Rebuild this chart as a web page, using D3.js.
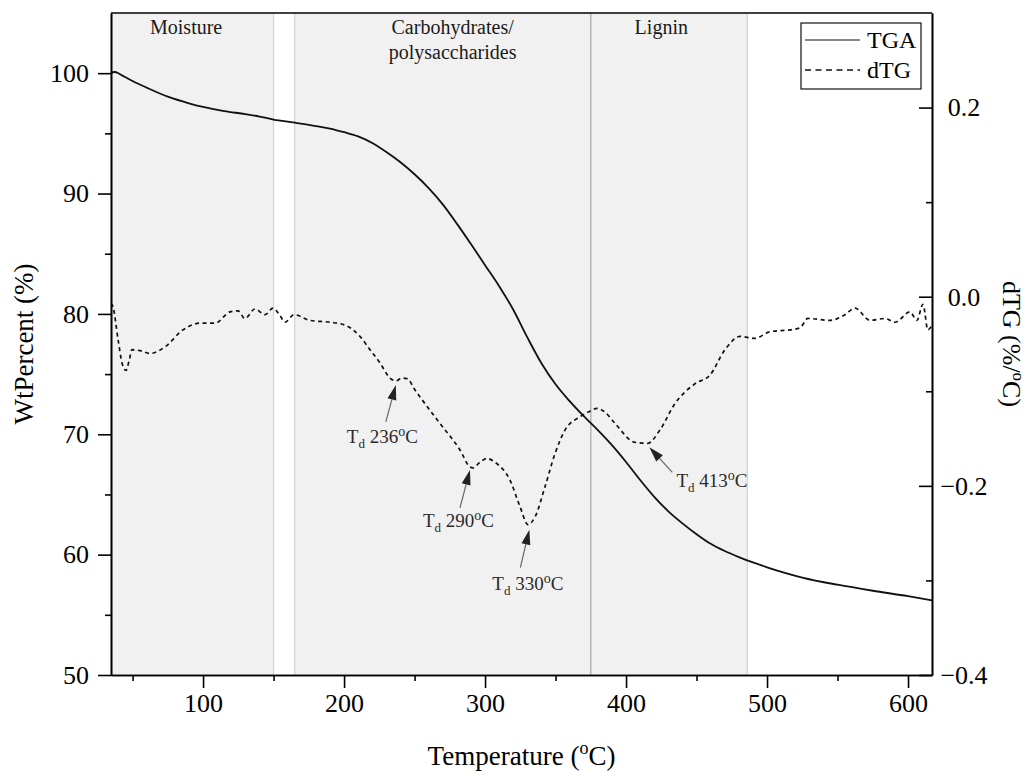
<!DOCTYPE html>
<html>
<head>
<meta charset="utf-8">
<script src="https://cdn.jsdelivr.net/npm/d3@7"></script>
<style>
body { margin: 0; background: #fff; }
svg { display: block; font-family: "Liberation Serif", "Times New Roman", serif; }
</style>
</head>
<body>
<div id="vis"></div>
<script>
const width = 1032
const height = 776
const margin = {top: 13, right: 100, bottom: 101, left: 111}

// TGA curve: temperature (C) and weight percent
const tgaTemp = [34.7, 37, 40, 42, 46, 50, 60, 75, 90, 100, 115, 130, 140, 150, 165, 180, 190, 200, 210, 220, 230, 240, 250, 260, 270, 280, 290, 300, 310, 320, 330, 340, 350, 360, 370, 380, 390, 400, 410, 420, 430, 440, 450, 460, 470, 480, 490, 500, 525, 550, 575, 600, 617]
const tgaWt = [100.0, 100.1, 100.0, 99.85, 99.6, 99.35, 98.8, 98.05, 97.5, 97.2, 96.85, 96.6, 96.4, 96.15, 95.9, 95.6, 95.4, 95.1, 94.75, 94.2, 93.45, 92.6, 91.6, 90.45, 89.1, 87.5, 85.8, 84.05, 82.3, 80.35, 78.05, 75.9, 74.15, 72.75, 71.5, 70.35, 69.1, 67.7, 66.2, 64.8, 63.6, 62.6, 61.7, 60.9, 60.3, 59.8, 59.35, 58.95, 58.1, 57.5, 57.0, 56.55, 56.2]

// derivative curve dTG (%/C)
const dtgTemp = [34.7, 36, 39.7, 42.5, 45.3, 47.5, 49.6, 55.3, 62.4, 73, 85.8, 97.8, 108.5, 119.1, 124.8, 129.7, 136.8, 143.9, 149.6, 154.6, 158.1, 164.5, 175.8, 190, 200.7, 211.3, 218.4, 225.5, 232.6, 236.8, 241, 245.3, 249.6, 253.9, 268, 282.2, 289.3, 291.4, 296.4, 301.4, 307, 317.7, 324.8, 330.4, 335.4, 342.5, 349.6, 356.7, 367.3, 374.4, 379.4, 385, 392.2, 406.3, 415.5, 424, 434.7, 448.9, 459.5, 470.2, 480.8, 491.4, 502.1, 516.3, 523.3, 529, 544.6, 555.3, 562.4, 573, 583.6, 590.7, 601.4, 606.3, 610.6, 614.1, 617]
const dtgVal = [-0.007, -0.01, -0.045, -0.07, -0.078, -0.068, -0.056, -0.057, -0.06, -0.053, -0.035, -0.028, -0.028, -0.016, -0.015, -0.023, -0.013, -0.019, -0.012, -0.02, -0.027, -0.019, -0.025, -0.027, -0.03, -0.042, -0.056, -0.07, -0.086, -0.089, -0.086, -0.087, -0.097, -0.106, -0.134, -0.162, -0.18, -0.181, -0.175, -0.171, -0.175, -0.194, -0.222, -0.241, -0.233, -0.201, -0.166, -0.141, -0.127, -0.121, -0.118, -0.122, -0.134, -0.154, -0.155, -0.141, -0.113, -0.092, -0.083, -0.056, -0.042, -0.044, -0.037, -0.035, -0.033, -0.023, -0.025, -0.019, -0.012, -0.025, -0.023, -0.027, -0.016, -0.025, -0.008, -0.035, -0.03]

// decomposition regions
const regionNames = [["Moisture"], ["Carbohydrates/", "polysaccharides"], ["Lignin"]]
const regionStart = [34.7, 165, 375]
const regionEnd = [150, 375, 486]
const regionLabelAt = [88, 277, 425]
const boundaryTemp = [150, 165, 375, 486]

// Td peaks
const peakTemp = [236, 290, 330, 413]
const peakVal = [-0.089, -0.181, -0.241, -0.155]

const xTicks = [100, 200, 300, 400, 500, 600]
const xMinor = [50, 150, 250, 350, 450, 550]
const yTicks = [50, 60, 70, 80, 90, 100]
const yMinor = [55, 65, 75, 85, 95]
const y2Ticks = [-0.4, -0.2, 0.0, 0.2]
const y2Minor = [-0.3, -0.1, 0.1]

const tga = tgaTemp.map((t, i) => ({t: t, v: tgaWt[i]}))
const dtg = dtgTemp.map((t, i) => ({t: t, v: dtgVal[i]}))

const x = d3.scaleLinear().domain([34.7, 617]).range([margin.left, width - margin.right])
const y = d3.scaleLinear().domain([50, 105]).range([height - margin.bottom, margin.top])
const y2 = d3.scaleLinear().domain([-0.4, 0.3]).range([height - margin.bottom, margin.top])

const svg = d3.select("#vis")
    .append("svg")
    .attr("width", width)
    .attr("height", height)

// shaded bands
svg.selectAll("rect.band")
    .data(regionStart)
    .join("rect")
    .attr("class", "band")
    .attr("x", (d) => x(d))
    .attr("y", margin.top)
    .attr("width", (d, i) => x(regionEnd[i]) - x(d))
    .attr("height", y(50) - margin.top)
    .attr("fill", "#f1f1f1")

svg.selectAll("line.bound")
    .data(boundaryTemp)
    .join("line")
    .attr("class", "bound")
    .attr("x1", (d) => x(d))
    .attr("x2", (d) => x(d))
    .attr("y1", margin.top)
    .attr("y2", y(50))
    .attr("stroke", (d) => d == 375 ? "#a5a5a5" : "#d2d2d2")
    .attr("stroke-width", 1.2)

// region labels
regionNames.forEach((lines, i) => {
    lines.forEach((txt, j) => {
        svg.append("text")
            .attr("x", x(regionLabelAt[i]))
            .attr("y", 34 + j * 25)
            .attr("text-anchor", "middle")
            .attr("font-size", "20px")
            .attr("fill", "#1a1a1a")
            .text(txt)
    })
})

// lines
svg.append("path")
    .datum(tga)
    .attr("fill", "none")
    .attr("stroke", "#111")
    .attr("stroke-width", 1.8)
    .attr("d", d3.line().x((d) => x(d.t)).y((d) => y(d.v)).curve(d3.curveMonotoneX))

svg.append("path")
    .datum(dtg)
    .attr("fill", "none")
    .attr("stroke", "#111")
    .attr("stroke-width", 1.7)
    .attr("stroke-dasharray", "4,3.5")
    .attr("d", d3.line().x((d) => x(d.t)).y((d) => y2(d.v)).curve(d3.curveMonotoneX))

// axes
const bottom = y(50)
const axisB = svg.append("g").attr("transform", `translate(0,${bottom})`)
    .call(d3.axisBottom(x).tickValues(xTicks).tickSize(13).tickSizeOuter(0).tickPadding(6))
svg.append("g").attr("transform", `translate(0,${bottom})`)
    .call(d3.axisBottom(x).tickValues(xMinor).tickSize(6).tickSizeOuter(0).tickFormat(""))

const axisL = svg.append("g").attr("transform", `translate(${margin.left},0)`)
    .call(d3.axisLeft(y).tickValues(yTicks).tickSize(13).tickSizeOuter(0).tickPadding(9))
svg.append("g").attr("transform", `translate(${margin.left},0)`)
    .call(d3.axisLeft(y).tickValues(yMinor).tickSize(6).tickSizeOuter(0).tickFormat(""))

const axisR = svg.append("g").attr("transform", `translate(${width - margin.right},0)`)
    .call(d3.axisRight(y2).tickValues(y2Ticks).tickSize(-13).tickSizeOuter(0).tickPadding(32).tickFormat(d3.format(".1f")))
svg.append("g").attr("transform", `translate(${width - margin.right},0)`)
    .call(d3.axisRight(y2).tickValues(y2Minor).tickSize(-6).tickSizeOuter(0).tickFormat(""))
axisR.selectAll("text").attr("text-anchor", "middle")

svg.append("line")
    .attr("x1", margin.left).attr("x2", width - margin.right)
    .attr("y1", margin.top).attr("y2", margin.top)
    .attr("stroke", "#000").attr("stroke-width", 1.6)

svg.selectAll(".domain, .tick line").attr("stroke", "#000").attr("stroke-width", 1.6)
svg.selectAll(".tick text").attr("font-size", "26px").attr("fill", "#000")
    .attr("font-family", "Liberation Serif, Times New Roman, serif")
axisB.selectAll(".tick text").attr("dy", "0.71em")

// axis titles
const xt = svg.append("text")
    .attr("x", (margin.left + width - margin.right) / 2)
    .attr("y", 765)
    .attr("text-anchor", "middle")
    .attr("font-size", "27px")
xt.append("tspan").text("Temperature (")
xt.append("tspan").attr("font-size", "18px").attr("dy", -11).text("o")
xt.append("tspan").attr("dy", 11).text("C)")

svg.append("text")
    .attr("transform", `translate(33,${(margin.top + bottom) / 2}) rotate(-90)`)
    .attr("text-anchor", "middle")
    .attr("font-size", "27px")
    .text("WtPercent (%)")

const rt = svg.append("text")
    .attr("transform", `translate(1003,${(margin.top + bottom) / 2}) rotate(90)`)
    .attr("text-anchor", "middle")
    .attr("font-size", "26px")
rt.append("tspan").text("dTG (%/")
rt.append("tspan").attr("font-size", "17px").attr("dy", -10).text("o")
rt.append("tspan").attr("dy", 10).text("C)")

// Td annotations
const annLayout = [
    {tip: [1, 4], tail: [-9, 41], text: [-48, 62]},
    {tip: [-1, 2], tail: [-11, 40], text: [-48, 59]},
    {tip: [2, 5], tail: [-7, 43], text: [-35, 65]},
    {tip: [5, 4], tail: [28, 29], text: [32, 44]}
]

peakTemp.forEach((t, i) => {
    const px = x(t), py = y2(peakVal[i])
    const L = annLayout[i]
    const tx = px + L.tip[0], ty = py + L.tip[1]
    const sx = px + L.tail[0], sy = py + L.tail[1]
    const ang = Math.atan2(ty - sy, tx - sx)
    const hl = 15, hw = 4.5
    const bx = tx - hl * Math.cos(ang), by = ty - hl * Math.sin(ang)
    svg.append("line")
        .attr("x1", sx).attr("y1", sy).attr("x2", bx).attr("y2", by)
        .attr("stroke", "#666").attr("stroke-width", 1.2)
    svg.append("path")
        .attr("d", `M${tx},${ty}L${bx - hw * Math.sin(ang)},${by + hw * Math.cos(ang)}L${bx + hw * Math.sin(ang)},${by - hw * Math.cos(ang)}Z`)
        .attr("fill", "#222")
    const lab = svg.append("text")
        .attr("x", px + L.text[0])
        .attr("y", py + L.text[1])
        .attr("font-size", "19px")
        .attr("fill", "#2a2a2a")
    lab.append("tspan").text("T")
    lab.append("tspan").attr("font-size", "13px").attr("dy", 5).text("d")
    lab.append("tspan").attr("dy", -5).text(" " + t)
    lab.append("tspan").attr("font-size", "14px").attr("dy", -7).text("o")
    lab.append("tspan").attr("dy", 7).text("C")
})

// legend
const leg = svg.append("g")
leg.append("rect")
    .attr("x", 801).attr("y", 23).attr("width", 120).attr("height", 66)
    .attr("fill", "#fff").attr("stroke", "#111").attr("stroke-width", 1.2)
const legItems = ["TGA", "dTG"]
legItems.forEach((name, i) => {
    leg.append("line")
        .attr("x1", 805).attr("x2", 860)
        .attr("y1", 40 + i * 30).attr("y2", 40 + i * 30)
        .attr("stroke", "#111").attr("stroke-width", i ? 1.7 : 1.2)
        .attr("stroke-dasharray", i ? "6,4.5" : null)
    leg.append("text")
        .attr("x", 867).attr("y", 48 + i * 30)
        .attr("font-size", "24px")
        .text(name)
})
</script>
</body>
</html>
